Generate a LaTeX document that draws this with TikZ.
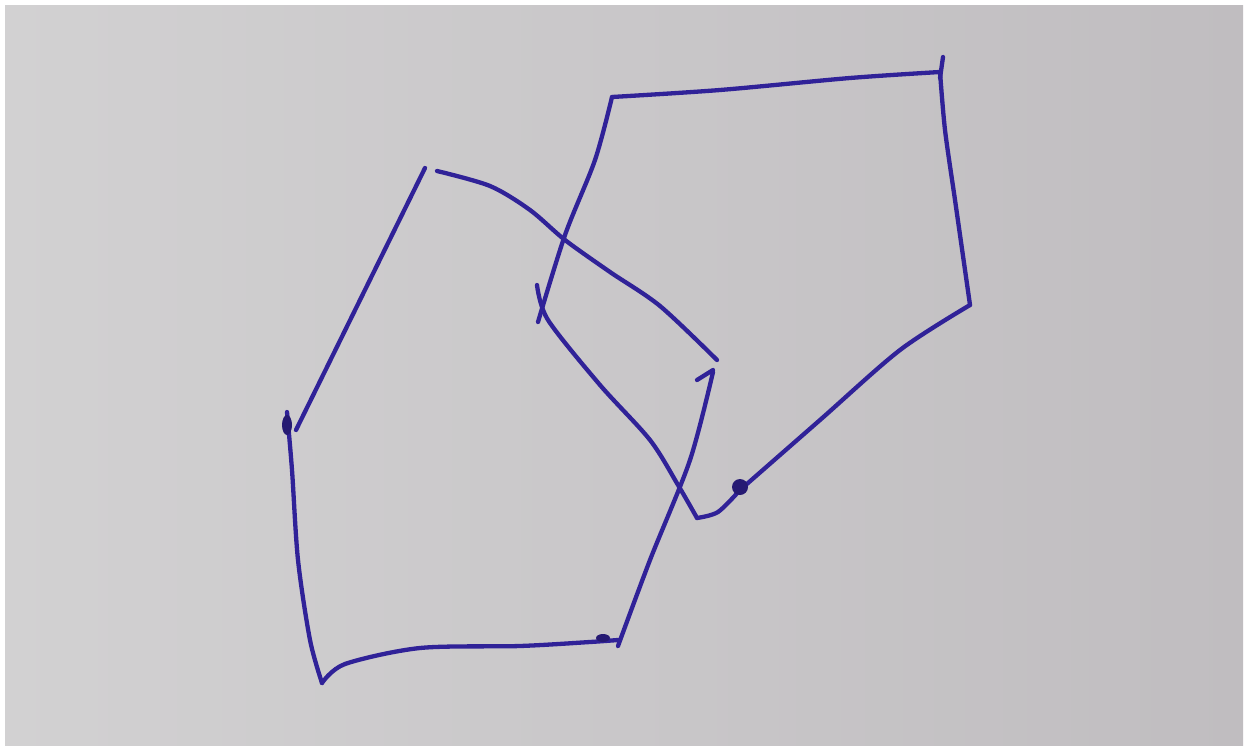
\documentclass[tikz,border=0pt]{standalone}
\begin{document}
\begin{tikzpicture}[x=1pt,y=-1pt,
  pen/.style={draw={rgb,255:red,48;green,34;blue,152},line width=4.3pt,line cap=round,line join=round},
  blot/.style={fill={rgb,255:red,38;green,26;blue,115}}]
\useasboundingbox (0,0) rectangle (1246,749);
\fill[white] (0,0) rectangle (1246,749);
\shade[left color={rgb,255:red,210;green,209;blue,210},right color={rgb,255:red,192;green,189;blue,192}] (5,6) rectangle (1243,745);
% left polygon vertices
\coordinate (L1) at (425,168);
\coordinate (L5) at (287,412);
% left polygon
\draw[pen] (L1) -- (296,430);
\draw[pen] plot[smooth] coordinates {(L5) (292,470) (298,560) (310,640) (322,683)};
\draw[pen] plot[smooth] coordinates {(322,683) (345,664) (420,648) (520,646) (590,642) (618,640)};
\draw[pen] plot[smooth] coordinates {(618,646) (650,560) (690,460) (713,372)};
\draw[pen] plot[smooth] coordinates {(437,171) (490,186) (530,210) (565,240) (610,272) (660,306) (717,360)};
\draw[pen] (697,380) -- (713,370);
% right polygon
\draw[pen] plot[smooth] coordinates {(612,97) (720,90) (850,78) (940,72)};
\draw[pen] (943,57) -- (940,78);
\draw[pen] plot[smooth] coordinates {(940,72) (945,130) (955,200) (965,270) (970,305)};
\draw[pen] plot[smooth] coordinates {(970,305) (900,350) (820,420) (740,490)};
\draw[pen] plot[smooth] coordinates {(740,490) (718,512) (697,518)};
\draw[pen] plot[smooth] coordinates {(537,285) (548,320) (600,385) (650,440) (678,485) (697,518)};
\draw[pen] plot[smooth] coordinates {(612,97) (595,160) (565,235) (538,322)};
\fill[blot] (287,425) ellipse (5 and 10);
\fill[blot] (740,487) circle (8);
\fill[blot] (603,638) ellipse (7 and 4);
\end{tikzpicture}
\end{document}
